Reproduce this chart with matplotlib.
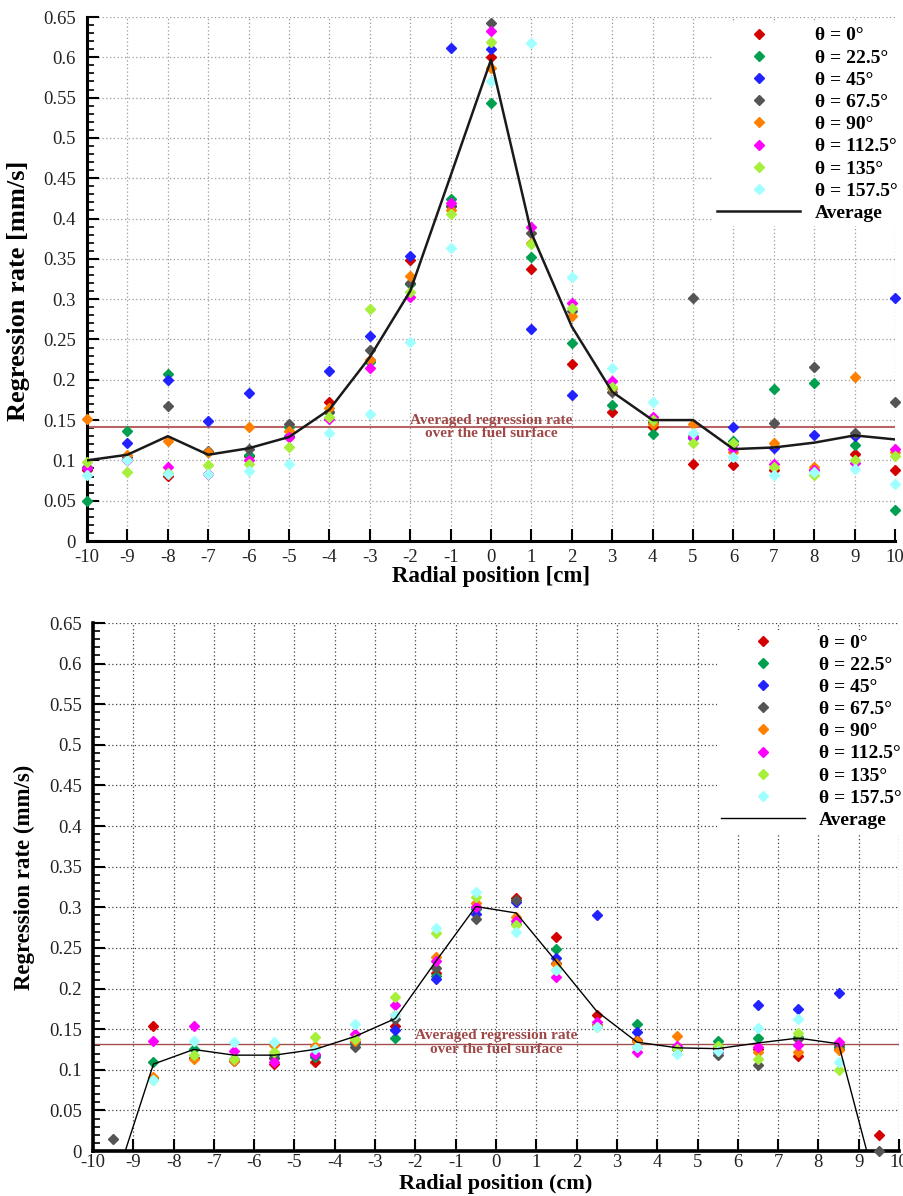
import numpy as np
import matplotlib
matplotlib.use("Agg")
import matplotlib.pyplot as plt
from matplotlib.ticker import MultipleLocator, FuncFormatter

plt.rcParams['font.family'] = ['Liberation Serif', 'DejaVu Serif']

# ---------------- data ----------------
angles = ["0", "22.5", "45", "67.5", "90", "112.5", "135", "157.5"]
colors = ["#D40000", "#00A050", "#2222FF", "#555555", "#FF7F00", "#FF00FF", "#A6F03C", "#A0FFFF"]

x_top = [-10, -9, -8, -7, -6, -5, -4, -3, -2, -1, 0, 1, 2, 3, 4, 5, 6, 7, 8, 9, 10]
top_0 = [0.088, 0.100, 0.081, 0.083, 0.105, 0.129, 0.172, 0.225, 0.349, 0.415, 0.600, 0.338, 0.220, 0.160, 0.142, 0.096, 0.094, 0.088, 0.088, 0.108, 0.088]
top_22 = [0.050, 0.136, 0.207, 0.110, 0.107, 0.142, 0.160, 0.222, 0.319, 0.424, 0.543, 0.352, 0.245, 0.169, 0.133, 0.130, 0.124, 0.189, 0.196, 0.119, 0.038]
top_45 = [0.090, 0.122, 0.200, 0.149, 0.183, 0.130, 0.211, 0.254, 0.353, 0.611, 0.610, 0.263, 0.181, 0.190, 0.148, 0.128, 0.141, 0.115, 0.131, 0.130, 0.302]
top_67 = [0.092, 0.104, 0.167, 0.112, 0.114, 0.145, 0.160, 0.237, 0.320, 0.415, 0.642, 0.382, 0.285, 0.185, 0.148, 0.302, 0.120, 0.146, 0.216, 0.134, 0.173]
top_90 = [0.151, 0.107, 0.124, 0.110, 0.141, 0.137, 0.165, 0.225, 0.329, 0.411, 0.587, 0.370, 0.279, 0.190, 0.145, 0.145, 0.111, 0.121, 0.092, 0.204, 0.110]
top_112 = [0.090, 0.100, 0.092, 0.083, 0.100, 0.129, 0.151, 0.214, 0.303, 0.419, 0.633, 0.390, 0.295, 0.198, 0.154, 0.129, 0.114, 0.096, 0.088, 0.097, 0.114]
top_135 = [0.098, 0.085, 0.084, 0.094, 0.096, 0.116, 0.154, 0.288, 0.309, 0.406, 0.619, 0.368, 0.289, 0.191, 0.150, 0.121, 0.121, 0.092, 0.082, 0.100, 0.105]
top_157 = [0.082, 0.100, 0.083, 0.083, 0.087, 0.096, 0.134, 0.158, 0.247, 0.364, 0.570, 0.618, 0.327, 0.214, 0.172, 0.134, 0.104, 0.082, 0.086, 0.089, 0.071]
top_avg = [0.100, 0.107, 0.130, 0.107, 0.115, 0.129, 0.163, 0.228, 0.310, 0.453, 0.597, 0.382, 0.266, 0.185, 0.150, 0.150, 0.114, 0.116, 0.122, 0.131, 0.126]
top_surface_avg = 0.142

nan = np.nan
x_bot = [-9.5, -8.5, -7.5, -6.5, -5.5, -4.5, -3.5, -2.5, -1.5, -0.5, 0.5, 1.5, 2.5, 3.5, 4.5, 5.5, 6.5, 7.5, 8.5, 9.5]
bot_0 = [nan, 0.154, 0.115, 0.112, 0.107, 0.110, 0.134, 0.154, 0.219, 0.300, 0.311, 0.264, 0.168, 0.137, 0.125, 0.125, 0.125, 0.117, 0.125, 0.020]
bot_22 = [nan, 0.110, 0.126, 0.112, 0.118, 0.116, 0.132, 0.139, 0.215, 0.298, 0.280, 0.249, 0.155, 0.156, 0.125, 0.136, 0.139, 0.140, 0.128, nan]
bot_45 = [nan, 0.090, 0.115, 0.111, 0.115, 0.118, 0.134, 0.149, 0.212, 0.292, 0.307, 0.238, 0.291, 0.147, 0.125, 0.122, 0.180, 0.175, 0.195, nan]
bot_67 = [0.015, 0.090, 0.115, 0.113, 0.114, 0.118, 0.128, 0.163, 0.225, 0.285, 0.309, 0.232, 0.155, 0.135, 0.125, 0.118, 0.106, 0.138, 0.130, 0.000]
bot_90 = [nan, 0.091, 0.113, 0.111, 0.131, 0.129, 0.136, 0.168, 0.239, 0.305, 0.288, 0.230, 0.155, 0.135, 0.142, 0.128, 0.122, 0.122, 0.124, nan]
bot_112 = [nan, 0.136, 0.154, 0.123, 0.109, 0.120, 0.144, 0.180, 0.234, 0.300, 0.283, 0.214, 0.159, 0.122, 0.129, 0.128, 0.128, 0.130, 0.134, nan]
bot_135 = [nan, 0.088, 0.118, 0.113, 0.122, 0.140, 0.138, 0.189, 0.268, 0.313, 0.278, 0.223, 0.153, 0.128, 0.125, 0.129, 0.113, 0.145, 0.100, nan]
bot_157 = [nan, 0.088, 0.136, 0.134, 0.134, 0.126, 0.156, 0.168, 0.275, 0.319, 0.269, 0.223, 0.153, 0.128, 0.119, 0.123, 0.152, 0.162, 0.110, nan]
x_bot_avg = [-9.2, -8.5, -7.5, -6.5, -5.5, -4.5, -3.5, -2.5, -1.5, -0.5, 0.5, 1.5, 2.5, 3.5, 4.5, 5.5, 6.5, 7.5, 8.5, 9.2]
bot_avg = [0.0, 0.107, 0.125, 0.118, 0.118, 0.125, 0.141, 0.163, 0.233, 0.301, 0.293, 0.233, 0.172, 0.134, 0.127, 0.126, 0.133, 0.139, 0.132, 0.0]
bot_surface_avg = 0.132

top_series = [top_0, top_22, top_45, top_67, top_90, top_112, top_135, top_157]
bot_series = [bot_0, bot_22, bot_45, bot_67, bot_90, bot_112, bot_135, bot_157]

# ---------------- figure ----------------
fig = plt.figure(figsize=(9.04, 11.96), dpi=100)
W, H = 904, 1196

def axes_px(l, r, t, b):
    return fig.add_axes([l / W, 1 - b / H, (r - l) / W, (b - t) / H])

ax1 = axes_px(87, 895, 17, 541)
ax2 = axes_px(93, 899, 623, 1151)

fmt = FuncFormatter(lambda v, p: ("%g" % round(v, 3)))

def style(ax, gridcolor, ylabel, xlabel, lw_spine, ylsize, xpad, xlabelpad, xlsize):
    ax.set_xlim(-10, 10)
    ax.set_ylim(0, 0.65)
    ax.xaxis.set_major_locator(MultipleLocator(1))
    ax.yaxis.set_major_locator(MultipleLocator(0.05))
    ax.yaxis.set_minor_locator(MultipleLocator(0.01))
    ax.yaxis.set_major_formatter(fmt)
    ax.xaxis.set_major_formatter(fmt)
    for s in ["top", "right"]:
        ax.spines[s].set_visible(False)
    for s in ["left", "bottom"]:
        ax.spines[s].set_linewidth(lw_spine)
        ax.spines[s].set_color("black")
    ax.tick_params(axis="both", which="major", direction="in", length=8.5, width=1.5,
                   labelsize=13.5, labelcolor="#222222")
    ax.tick_params(axis="y", which="major", pad=8)
    ax.tick_params(axis="x", which="major", pad=xpad)
    ax.tick_params(axis="y", which="minor", direction="in", length=5, width=1.2)
    ax.tick_params(axis="x", which="minor", length=0)
    ax.grid(True, which="major", color=gridcolor, linestyle=(0, (1, 2)), linewidth=0.9)
    ax.set_axisbelow(True)
    ax.set_ylabel(ylabel, fontsize=ylsize, fontweight="bold")
    ax.set_xlabel(xlabel, fontsize=xlsize, fontweight="bold", labelpad=xlabelpad)

style(ax1, "#9a9a9a", "Regression rate [mm/s]", "Radial position [cm]", 2.2, 19, 6, 0, 16.5)
style(ax2, "#444444", "Regression rate (mm/s)", "Radial position (cm)", 2.6, 16.5, 2, 2.5, 16)

# top panel
ax1.axhline(top_surface_avg, color="#B86464", linewidth=1.5, zorder=2)
ax1.text(0, top_surface_avg, "Averaged regression rate\nover the fuel surface", ha="center", va="center",
         fontsize=11, fontweight="bold", color="#A04848", linespacing=1.0, zorder=3)
for ys, c, a in zip(top_series, colors, angles):
    ax1.plot(x_top, ys, linestyle="none", marker="D", markersize=5, color=c,
             label="\u03b8 = %s\u00b0" % a, zorder=4, clip_on=False)
ax1.plot(x_top, top_avg, color="#1a1a1a", linewidth=1.8, label="Average", zorder=5)

# bottom panel
ax2.axhline(bot_surface_avg, color="#A05050", linewidth=1.0, zorder=2)
ax2.text(0, bot_surface_avg + 0.0015, "Averaged regression rate\nover the fuel surface", ha="center", va="center",
         fontsize=11, fontweight="bold", color="#A04848", linespacing=1.05, zorder=3)
for ys, c, a in zip(bot_series, colors, angles):
    ax2.plot(x_bot, ys, linestyle="none", marker="D", markersize=5.3, color=c,
             label="\u03b8 = %s\u00b0" % a, zorder=4, clip_on=False)
ax2.plot(x_bot_avg, bot_avg, color="black", linewidth=1.0, label="Average", zorder=5)

def legend(ax, left_px, top_px):
    lg = ax.legend(loc="upper left", bbox_to_anchor=(left_px / W, 1 - top_px / H),
                   bbox_transform=fig.transFigure, numpoints=1, frameon=True,
                   fancybox=False, framealpha=1, facecolor="white", edgecolor="none",
                   prop={"weight": "bold", "size": 14}, handlelength=4.3, handletextpad=0.75,
                   labelspacing=0.235, borderpad=0.2, borderaxespad=0)
    lg.set_zorder(10)
    return lg

legend(ax1, 713, 23)
legend(ax2, 717, 630)

ax1.yaxis.set_label_coords(-0.071, 0.477)
ax2.yaxis.set_label_coords(-0.072, 0.519)

fig.savefig("out.png", dpi=100)
